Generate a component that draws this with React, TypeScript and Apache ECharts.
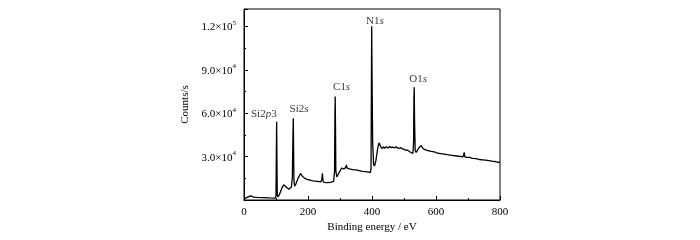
import React, { useEffect, useRef } from "react";
import * as echarts from "echarts";

const energy = [0, 10, 20, 25, 30, 40, 60, 80, 98, 100, 101, 102, 103, 104, 106, 110, 118, 124, 132, 140, 148, 151, 153, 154, 155, 156, 158, 162, 170, 177, 182, 190, 200, 215, 230, 240, 243, 245, 247, 250, 260, 270, 280, 283, 284, 285, 286, 287, 290, 295, 305, 312, 318, 320, 322, 330, 340, 350, 360, 370, 380, 390, 395, 397, 398, 399, 400, 402, 405, 408, 412, 418, 422, 428, 432, 436, 440, 445, 450, 455, 460, 465, 470, 475, 480, 485, 490, 495, 500, 505, 510, 515, 520, 525, 528, 530, 531, 532, 533, 535, 538, 542, 548, 553, 558, 565, 575, 585, 595, 605, 615, 625, 635, 645, 655, 665, 675, 682, 686, 688, 690, 695, 705, 715, 725, 735, 745, 755, 765, 775, 785, 795, 800];
const counts = [800, 1800, 2800, 2500, 2000, 1800, 1600, 1400, 1300, 3000, 30000, 54000, 25000, 3000, 2200, 3500, 8000, 10500, 9000, 7500, 9000, 15000, 45000, 56500, 35000, 14000, 9500, 11000, 15500, 18300, 16500, 15000, 14000, 13200, 12800, 12500, 14000, 18500, 13000, 12200, 12000, 12200, 12800, 20000, 55000, 71500, 50000, 20000, 16000, 18000, 22000, 21500, 22500, 24300, 22000, 21500, 21000, 20800, 20300, 19800, 19600, 19200, 19000, 22000, 70000, 120000, 90000, 40000, 24500, 23500, 27000, 36000, 39500, 36500, 35500, 36800, 35800, 36800, 36000, 37000, 36200, 36600, 35900, 36700, 36000, 35600, 36200, 35300, 35000, 34500, 34600, 33800, 33000, 32500, 32300, 40000, 70000, 78000, 55000, 34000, 32800, 34500, 36500, 37500, 36000, 34800, 34200, 33600, 33200, 32300, 32000, 31700, 31300, 31000, 30700, 30400, 30100, 29800, 30500, 33000, 30000, 29500, 29400, 28800, 28600, 28000, 27800, 27500, 27200, 26800, 26600, 26000, 26100];

const xTicks = [0, 200, 400, 600, 800];
const yTicks = [30000, 60000, 90000, 120000];

const peakNames = ["Si2{i|p}3", "Si2{i|s}", "C1{i|s}", "N1{i|s}", "O1{i|s}"];
const peakX = [62, 172, 305, 409, 544];
const peakY = [60300, 63700, 78500, 124700, 84300];

const FONT = "'Liberation Serif', 'Times New Roman', serif";

export default function App() {
  const ref = useRef<HTMLDivElement>(null);
  useEffect(() => {
    const chart = echarts.init(ref.current!, null, { renderer: "svg" });
    const lineData = energy.map((e, i) => [e, counts[i]]);
    const labelData = peakNames.map((n, i) => [peakX[i], peakY[i], n]);
    chart.setOption({
      animation: false,
      grid: {
        left: 244, right: 200, top: 9, bottom: 40,
        show: true, borderColor: "#000", borderWidth: 1, backgroundColor: "transparent",
      },
      xAxis: {
        type: "value", min: 0, max: 800, interval: 200,
        name: "Binding energy / eV", nameLocation: "middle", nameGap: 20,
        nameTextStyle: { fontFamily: FONT, fontSize: 11, color: "#000" },
        axisLine: { show: true, lineStyle: { color: "#000" } },
        axisTick: { inside: true, length: 4, lineStyle: { color: "#000" } },
        minorTick: { show: true, splitNumber: 2, length: 2, lineStyle: { color: "#000" } },
        splitLine: { show: false },
        axisLabel: {
          margin: 5, fontFamily: FONT, fontSize: 11, color: "#000",
          formatter: (v: number) => (xTicks.includes(v) ? String(v) : ""),
        },
      },
      yAxis: {
        type: "value", min: 0, max: 132000, interval: 30000,
        name: "Counts/s", nameLocation: "middle", nameGap: 55,
        nameTextStyle: { fontFamily: FONT, fontSize: 11, color: "#000" },
        axisLine: { show: true, lineStyle: { color: "#000" } },
        axisTick: { inside: true, length: 4, lineStyle: { color: "#000" } },
        minorTick: { show: true, splitNumber: 2, length: 2, lineStyle: { color: "#000" } },
        splitLine: { show: false },
        axisLabel: {
          margin: 8, fontFamily: FONT, fontSize: 11, color: "#000",
          formatter: (v: number) => {
            if (!yTicks.includes(v)) return "";
            const exp = Math.floor(Math.log10(v));
            const mant = (v / Math.pow(10, exp)).toFixed(1);
            return mant + "×10{s|" + exp + "}";
          },
          rich: {
            s: { fontFamily: FONT, fontSize: 7, color: "#000", verticalAlign: "top", lineHeight: 14, padding: [0, 0, 5, 0] },
          },
        },
      },
      series: [
        {
          type: "line", data: lineData, showSymbol: false, symbol: "none",
          lineStyle: { color: "#000", width: 1.3 }, z: 2,
        },
        {
          type: "scatter", data: labelData, symbolSize: 0, silent: true,
          label: {
            show: true, position: "inside", fontFamily: FONT, fontSize: 11, color: "#000",
            formatter: (p: any) => p.data[2],
            rich: { i: { fontFamily: FONT, fontSize: 11, fontStyle: "italic", color: "#000" } },
          },
        },
      ],
    });
    return () => chart.dispose();
  }, []);
  return <div ref={ref} style={{ position: "fixed", left: 0, top: 0, width: 700, height: 240 }} />;
}
